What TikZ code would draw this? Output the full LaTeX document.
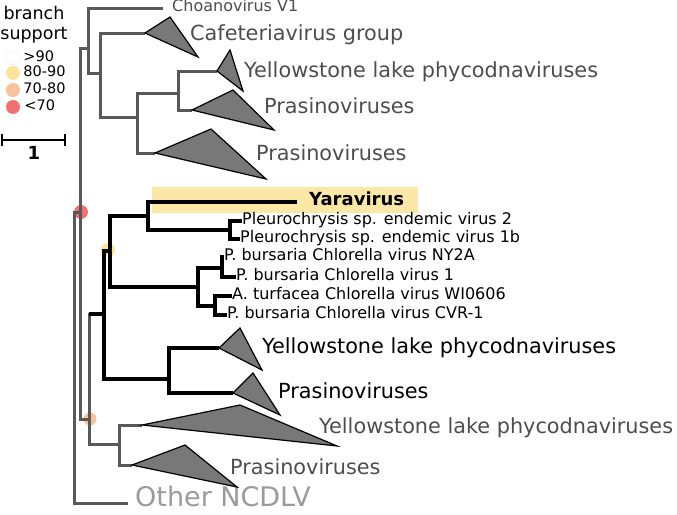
\documentclass[tikz,border=0pt]{standalone}
\usepackage{fontspec}
\setmainfont{DejaVu Sans}
\usepackage{xcolor}
\usetikzlibrary{positioning}
\definecolor{branchgray}{HTML}{595959}
\definecolor{cladegray}{HTML}{787878}
\definecolor{labelgray}{HTML}{4D4D4D}
\definecolor{outgray}{HTML}{9B9B9B}
\definecolor{hilite}{HTML}{FCE8A6}
\definecolor{suphigh}{HTML}{FCE49C}
\definecolor{supmid}{HTML}{F8C29A}
\definecolor{suplow}{HTML}{F27070}
\newcommand{\sizeL}{\fontsize{20.8}{24}\selectfont}
\newcommand{\sizeM}{\fontsize{16}{19}\selectfont}
\newcommand{\sizeS}{\fontsize{14.5}{17}\selectfont}

\begin{document}
\begin{tikzpicture}[x=1pt,y=-1pt]
    \tikzstyle{gbr} = [draw=branchgray, line width=3pt]
    \tikzstyle{kbr} = [draw=black, line width=3.2pt]
    \tikzstyle{clade} = [fill=cladegray, draw=black, line width=1.2pt, line join=miter]
    \tikzstyle{leaf} = [anchor=west, inner sep=0pt, text height=0.75em, text depth=0.125em]
    \tikzstyle{glabel} = [anchor=base west, inner sep=0pt, text=labelgray, font=\sizeL]
    \tikzstyle{klabel} = [anchor=base west, inner sep=0pt, font=\sizeL]
    \tikzstyle{support} = [circle, minimum size=14pt, inner sep=0pt]
    \useasboundingbox (0,0) rectangle (677,514);

    % legend
    \node[anchor=base, font=\fontsize{17.5}{20}\selectfont] (legA) at (34,19) {branch};
    \node[anchor=base, font=\fontsize{17.5}{20}\selectfont] (legB) at (34,39) {support};
    \node[support, fill=white, draw=black!8] (s90) at (13,58) {};
    \node[support, fill=suphigh] (s80) at (13,73) {};
    \node[support, fill=supmid] (s70) at (13,90) {};
    \node[support, fill=suplow] (s0) at (13,107) {};
    \node[leaf, font=\sizeS, right=3pt of s90] (t90) {>90};
    \node[leaf, font=\sizeS, right=3pt of s80] (t80) {80-90};
    \node[leaf, font=\sizeS, right=3pt of s70] (t70) {70-80};
    \node[leaf, font=\sizeS, right=4pt of s0] (t0) {<70};
    \coordinate (sbA) at (2,140);
    \coordinate (sbB) at (65,140);
    \draw[line width=2.5pt] (sbA) -- (sbB);
    \draw[line width=2.5pt] (sbA) ++(0,-6) -- ++(0,12);
    \draw[line width=2.5pt] (sbB) ++(0,-6) -- ++(0,12);
    \node[anchor=base, font=\bfseries\fontsize{18}{20}\selectfont] (sbtext) at (34,159) {1};

    \fill[hilite] (152,187) rectangle (418,213);

    % internal nodes
    \coordinate (root) at (74,212);
    \coordinate (rn) at (80,212);
    \coordinate (top) at (88,48);
    \coordinate (cafn) at (100,73);
    \coordinate (pran) at (137,117);
    \coordinate (yeln) at (178,93);
    \coordinate (on) at (89,419);
    \coordinate (lown) at (119,444);
    \coordinate (bn) at (104,314);
    \coordinate (yn) at (110,251);
    \coordinate (yarn) at (148,216);
    \coordinate (pln) at (230,230);
    \coordinate (chn) at (198,287);
    \coordinate (chA) at (222,268);
    \coordinate (chB) at (215,306);
    \coordinate (blkn) at (169,379);

    % collapsed clades
    \coordinate (caf) at (145,33);
    \coordinate (yelA) at (217,71);
    \coordinate (praA) at (192,110);
    \coordinate (praB) at (155,153);
    \coordinate (yelK) at (219,348);
    \coordinate (praK) at (233,393);
    \coordinate (yelG) at (142,425);
    \coordinate (praG) at (132,465);

    \node[support, fill=suplow] (dotrn) at (81,212) {};
    \node[support, fill=suphigh] (dotyn) at (108,250) {};
    \node[support, fill=supmid, minimum size=13pt] (doton) at (90,419) {};

    % leaves
    \node[leaf, inner xsep=9pt, font=\sizeM, text=labelgray] (choano) at (163,8) {Choanovirus V1};
    \node[leaf, inner xsep=12pt, font=\bfseries\fontsize{18}{21}\selectfont] (yara) at (297,202) {Yaravirus};
    \node[leaf, font=\sizeM] (plA) at (242,221) {Pleurochrysis sp. endemic virus 2};
    \node[leaf, font=\sizeM] (plB) at (240,239) {Pleurochrysis sp. endemic virus 1b};
    \node[leaf, font=\sizeM] (ny) at (224,257) {P. bursaria Chlorella virus NY2A};
    \node[leaf, font=\sizeM] (cvone) at (236,277) {P. bursaria Chlorella virus 1};
    \node[leaf, font=\sizeM] (wi) at (232,296) {A. turfacea Chlorella virus WI0606};
    \node[leaf, font=\sizeM] (cvr) at (227,315) {P. bursaria Chlorella virus CVR-1};
    \node[leaf, inner xsep=7pt, font=\fontsize{27}{32}\selectfont, text=outgray] (other) at (128,503) {Other NCDLV};

    % gray part
    \draw[gbr] (rn) -- (root) |- (other.west);
    \draw[gbr] (top) -| (rn) |- (on);
    \draw[gbr] (choano.west) -| (top) |- (cafn);
    \draw[gbr] (caf) -| (cafn) |- (pran);
    \draw[gbr] (yeln) -| (pran) |- (praB);
    \draw[gbr] (yelA) -| (yeln) |- (praA);
    \draw[gbr] (bn) -| (on) |- (lown);
    \draw[gbr] (yelG) -| (lown) |- (praG);

    % black part
    \draw[kbr] (bn) -- (bn -| on);
    \draw[kbr] (yn) -| (bn) |- (blkn);
    \draw[kbr] (yarn) -| (yn) |- (chn);
    \draw[kbr] (yara.west) -| (yarn) |- (pln);
    \draw[kbr] (plA.west) -| (pln) |- (plB.west);
    \draw[kbr] (chA) -| (chn) |- (chB);
    \draw[kbr] (ny.west) -| (chA) |- (cvone.west);
    \draw[kbr] (wi.west) -| (chB) |- (cvr.west);
    \draw[kbr] (yelK) -| (blkn) |- (praK);

    \filldraw[clade] (caf) -- (170,17) -- (198,57) -- cycle;
    \filldraw[clade] (yelA) -- (230,50) -- (243,91) -- cycle;
    \filldraw[clade] (praA) -- (233,90) -- (274,130) -- cycle;
    \filldraw[clade] (praB) -- (211,129) -- (266,179) -- cycle;
    \filldraw[clade] (yelK) -- (240,328) -- (262,370) -- cycle;
    \filldraw[clade] (praK) -- (253,373) -- (280,415) -- cycle;
    \filldraw[clade] (yelG) -- (240,405) -- (337,446) -- cycle;
    \filldraw[clade] (praG) -- (185,445) -- (237,487) -- cycle;

    % clade labels
    \node[glabel] (cafl) at (190,40) {Cafeteriavirus group};
    \node[glabel] (yelAl) at (244,77) {Yellowstone lake phycodnaviruses};
    \node[glabel] (praAl) at (264,113) {Prasinoviruses};
    \node[glabel] (praBl) at (256,160) {Prasinoviruses};
    \node[klabel] (yelKl) at (262,353) {Yellowstone lake phycodnaviruses};
    \node[klabel] (praKl) at (278,398) {Prasinoviruses};
    \node[glabel] (yelGl) at (319,433) {Yellowstone lake phycodnaviruses};
    \node[glabel] (praGl) at (230,474) {Prasinoviruses};
\end{tikzpicture}
\end{document}
